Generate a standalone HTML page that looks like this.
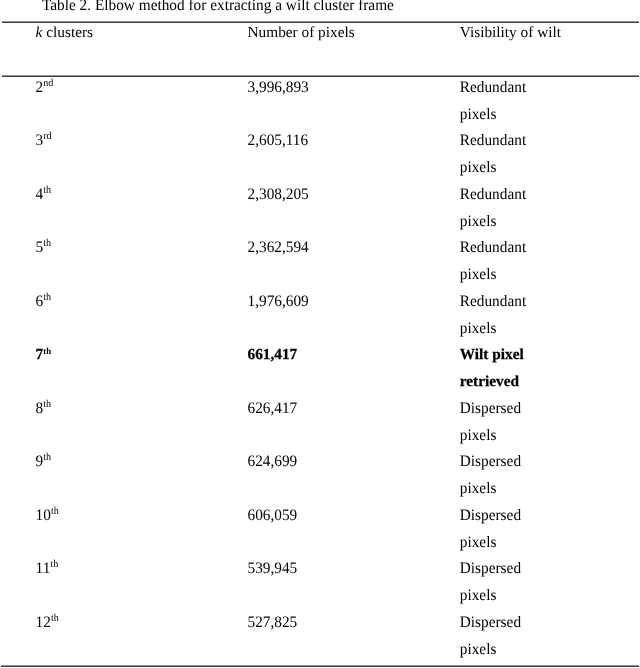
<!DOCTYPE html>
<html><head><meta charset="utf-8"><title>Table 2</title>
<style>
html,body{margin:0;padding:0;background:#fff;}
body{width:640px;height:668px;position:relative;overflow:hidden;font-family:"Liberation Serif","Times New Roman",serif;font-size:15.32px;color:#000;text-rendering:geometricPrecision;}
.t{position:absolute;white-space:nowrap;line-height:20px;height:20px;transform:scaleY(1.04);transform-origin:0 14px;}
sup{font-size:0.66em;vertical-align:baseline;position:relative;top:-0.60em;line-height:0;}
.b sup{font-size:0.58em;top:-0.58em;-webkit-text-stroke:0;}
.h{transform:none;}
.b{font-weight:bold;-webkit-text-stroke:0.25px #000;transform:none;}
.b sup{-webkit-text-stroke:0 #000;}
.l{position:absolute;left:2px;width:637px;height:1px;background:#3c3c3c;border-top:1px solid #969696;}
</style></head><body>

<div class="t" style="left:42px;top:-4px">Table 2. Elbow method for extracting a wilt cluster frame</div>
<div class="l" style="top:21px"></div>
<div class="l" style="top:75px"></div>
<div class="l" style="top:665px;left:1px;width:638px"></div>
<div class="t h" style="left:35.6px;top:23px"><i>k</i> clusters</div>
<div class="t h" style="left:247.5px;top:23px">Number of pixels</div>
<div class="t h" style="left:459.8px;top:23px">Visibility of wilt</div>
<div class="t" style="left:35.6px;top:78px">2<sup>nd</sup></div>
<div class="t" style="left:247.5px;top:78px">3,996,893</div>
<div class="t" style="left:459.8px;top:78px">Redundant</div>
<div class="t" style="left:459.8px;top:105px">pixels</div>
<div class="t" style="left:35.6px;top:131px">3<sup>rd</sup></div>
<div class="t" style="left:247.5px;top:131px">2,605,116</div>
<div class="t" style="left:459.8px;top:131px">Redundant</div>
<div class="t" style="left:459.8px;top:158px">pixels</div>
<div class="t" style="left:35.6px;top:185px">4<sup>th</sup></div>
<div class="t" style="left:247.5px;top:185px">2,308,205</div>
<div class="t" style="left:459.8px;top:185px">Redundant</div>
<div class="t" style="left:459.8px;top:212px">pixels</div>
<div class="t" style="left:35.6px;top:238px">5<sup>th</sup></div>
<div class="t" style="left:247.5px;top:238px">2,362,594</div>
<div class="t" style="left:459.8px;top:238px">Redundant</div>
<div class="t" style="left:459.8px;top:265px">pixels</div>
<div class="t" style="left:35.6px;top:292px">6<sup>th</sup></div>
<div class="t" style="left:247.5px;top:292px">1,976,609</div>
<div class="t" style="left:459.8px;top:292px">Redundant</div>
<div class="t" style="left:459.8px;top:319px">pixels</div>
<div class="t b" style="left:35.6px;top:345px">7<sup>th</sup></div>
<div class="t b" style="left:247.5px;top:345px">661,417</div>
<div class="t b" style="left:459.8px;top:345px">Wilt pixel</div>
<div class="t b" style="left:459.8px;top:372px">retrieved</div>
<div class="t" style="left:35.6px;top:399px">8<sup>th</sup></div>
<div class="t" style="left:247.5px;top:399px">626,417</div>
<div class="t" style="left:459.8px;top:399px">Dispersed</div>
<div class="t" style="left:459.8px;top:426px">pixels</div>
<div class="t" style="left:35.6px;top:452px">9<sup>th</sup></div>
<div class="t" style="left:247.5px;top:452px">624,699</div>
<div class="t" style="left:459.8px;top:452px">Dispersed</div>
<div class="t" style="left:459.8px;top:479px">pixels</div>
<div class="t" style="left:35.6px;top:506px">10<sup>th</sup></div>
<div class="t" style="left:247.5px;top:506px">606,059</div>
<div class="t" style="left:459.8px;top:506px">Dispersed</div>
<div class="t" style="left:459.8px;top:533px">pixels</div>
<div class="t" style="left:35.6px;top:559px">11<sup>th</sup></div>
<div class="t" style="left:247.5px;top:559px">539,945</div>
<div class="t" style="left:459.8px;top:559px">Dispersed</div>
<div class="t" style="left:459.8px;top:586px">pixels</div>
<div class="t" style="left:35.6px;top:613px">12<sup>th</sup></div>
<div class="t" style="left:247.5px;top:613px">527,825</div>
<div class="t" style="left:459.8px;top:613px">Dispersed</div>
<div class="t" style="left:459.8px;top:640px">pixels</div>
</body></html>
